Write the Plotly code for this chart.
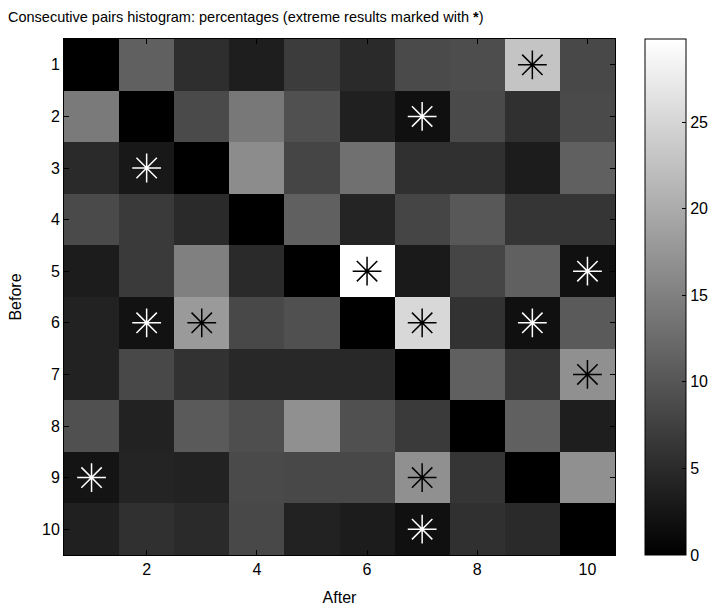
import plotly.graph_objects as go

after_labels = [1, 2, 3, 4, 5, 6, 7, 8, 9, 10]
before_labels = [1, 2, 3, 4, 5, 6, 7, 8, 9, 10]

# percentages, rows = Before (1..10), columns = After (1..10)
pct = [
    [0.0, 11.2, 5.4, 3.5, 7.0, 4.9, 8.6, 9.0, 22.9, 8.4],
    [14.3, 0.0, 8.6, 14.0, 9.4, 3.7, 1.9, 8.6, 5.6, 8.6],
    [4.9, 2.8, 0.0, 16.4, 8.1, 13.1, 5.6, 5.6, 3.3, 11.2],
    [8.6, 6.8, 4.9, 0.0, 11.2, 4.2, 8.1, 10.3, 6.2, 6.2],
    [3.3, 6.8, 15.0, 4.9, 0.0, 29.8, 3.0, 8.1, 11.2, 1.9],
    [4.0, 2.1, 18.0, 8.4, 9.4, 0.0, 25.2, 5.8, 1.9, 10.5],
    [4.0, 8.4, 5.8, 4.7, 4.7, 4.7, 0.0, 11.2, 6.2, 16.8],
    [9.4, 4.0, 10.5, 9.1, 16.8, 9.4, 6.8, 0.0, 11.2, 3.5],
    [2.3, 4.2, 4.0, 8.6, 8.4, 8.4, 16.8, 6.2, 0.0, 16.8],
    [3.7, 5.6, 4.9, 8.4, 4.0, 3.3, 1.9, 5.6, 4.9, 0.0],
]

# extreme results (After, Before)
extreme_after = [9, 7, 2, 6, 10, 2, 3, 7, 9, 10, 1, 7, 7]
extreme_before = [1, 2, 3, 5, 5, 6, 6, 6, 6, 7, 9, 9, 10]

zmax = max(max(r) for r in pct)
star_colors = []
for a, b in zip(extreme_after, extreme_before):
    v = pct[b - 1][a - 1]
    star_colors.append("black" if v > zmax / 2 else "white")

font = "Liberation Sans, Arial, sans-serif"

fig = go.Figure()
fig.add_trace(go.Heatmap(
    x=after_labels, y=before_labels, z=pct,
    colorscale=[[0, "rgb(0,0,0)"], [1, "rgb(255,255,255)"]],
    zmin=0, zmax=zmax,
    colorbar=dict(
        x=(645 - 64) / 551, xanchor="left", xref="paper", xpad=0, ypad=0,
        y=0.5, yanchor="middle", yref="paper",
        len=1, lenmode="fraction",
        thickness=41, thicknessmode="pixels",
        outlinewidth=1, outlinecolor="black",
        tickmode="linear", tick0=0, dtick=5,
        ticks="inside", ticklen=4, tickcolor="black",
        tickfont=dict(family=font, size=16, color="black"),
    ),
    hoverinfo="skip",
))
fig.add_trace(go.Scatter(
    x=extreme_after, y=extreme_before, mode="markers",
    marker=dict(symbol="asterisk-open", size=24, color=star_colors,
                line=dict(color=star_colors, width=1.5)),
    hoverinfo="skip", showlegend=False,
))

fig.update_layout(
    width=712, height=608,
    margin=dict(l=64, r=97, t=39, b=53, autoexpand=False),
    paper_bgcolor="white", plot_bgcolor="white",
    font=dict(family=font, size=16, color="black"),
    title=dict(
        text="Consecutive pairs histogram: percentages (extreme results marked with <b>*</b>)",
        x=8 / 712, xanchor="left", xref="container",
        y=1 - 17 / 608, yanchor="middle", yref="container",
        font=dict(family=font, size=14.5, color="black"),
    ),
    xaxis=dict(
        range=[0.5, 10.5], tickmode="array", tickvals=[2, 4, 6, 8, 10],
        ticks="inside", ticklen=5, tickcolor="black",
        showline=True, linecolor="black", linewidth=1, mirror="ticks",
        showgrid=False, zeroline=False, automargin=False,
        tickfont=dict(family=font, size=16, color="black"),
        title=dict(text="After", standoff=14,
                   font=dict(family=font, size=16, color="black")),
    ),
    yaxis=dict(
        range=[10.5, 0.5], tickmode="array", tickvals=before_labels,
        ticks="inside", ticklen=5, tickcolor="black",
        showline=True, linecolor="black", linewidth=1, mirror="ticks",
        showgrid=False, zeroline=False, automargin=False,
        tickfont=dict(family=font, size=16, color="black"),
        title=dict(text="Before", standoff=16,
                   font=dict(family=font, size=16, color="black")),
    ),
)

fig.write_html("out.html")
